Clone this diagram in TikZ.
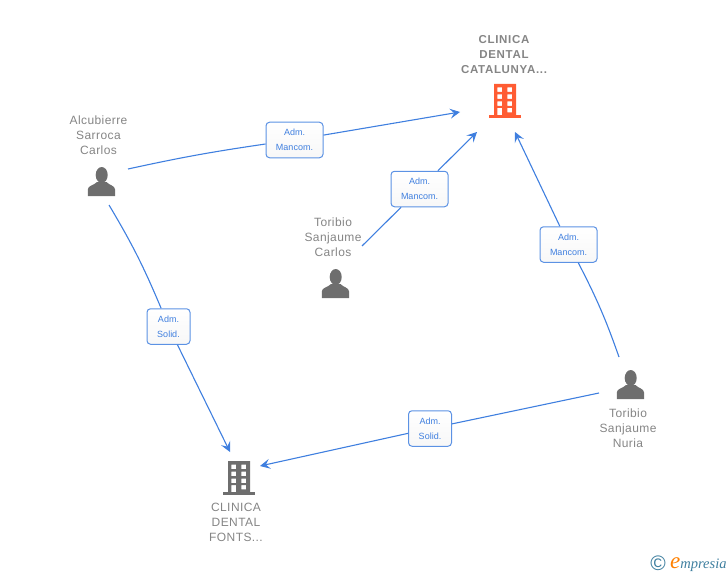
\documentclass[tikz,border=0pt]{standalone}
\usepackage{fontspec}
\setmainfont{Liberation Sans}
\newfontfamily\logofont{Liberation Serif}
\usetikzlibrary{arrows.meta}
\definecolor{linkblue}{HTML}{3F7FDF}
\definecolor{labelgray}{HTML}{858585}
\definecolor{icongray}{HTML}{6E6E6E}
\definecolor{iconorange}{HTML}{FF5C33}
\definecolor{logoteal}{HTML}{3F7F9F}
\tikzset{
  rolebox/.style={draw=linkblue!85, line width=1pt, rounded corners=3.5pt, top color=white, bottom color=black!3,
    text=linkblue, font=\fontsize{9}{15}\selectfont, align=center, inner sep=0pt, minimum height=35.5pt},
  namelabel/.style={text=labelgray, font=\fontsize{12}{15}\selectfont\addfontfeature{LetterSpace=3.5}, align=center, inner sep=0pt},
  firmlabel/.style={text=labelgray, font=\fontsize{11.5}{15}\selectfont\bfseries\addfontfeature{LetterSpace=6}, align=center, inner sep=0pt},
  link/.style={draw=linkblue, line width=1.1pt},
  linkarrow/.style={link, -{Stealth[length=10pt,width=10pt,inset=4pt]}},
  personicon/.pic={
    \fill (0.7,-7) circle [x radius=6, y radius=8];
    \fill (-13.2,14) -- (-13.2,7.5) .. controls (-13.2,3.5) and (-7,3.5) .. (-4,0) -- (5.5,0)
      .. controls (8.5,3.5) and (14,3.5) .. (14,7.5) -- (14,14) -- cycle;
  },
  buildingicon/.pic={
    \fill[even odd rule] (-11,-17) rectangle (11,15)
      \foreach \wx in {-7.7,2.3} {\foreach \wy in {-13.5,-6.5,0.5} {(\wx,\wy) rectangle +(4.7,4.5)}}
      (-7.7,7) rectangle (-3,15) (2.3,7) rectangle (7,11.3);
    \fill (-16,14) rectangle (16,17);
  }
}
\begin{document}
\begin{tikzpicture}[x=1pt,y=-1pt]
  \useasboundingbox (0,0) rectangle (728,575);
  % people and firms
  \pic[icongray] at (101,182) {personicon};
  \pic[icongray] at (335,284) {personicon};
  \pic[icongray] at (630,385) {personicon};
  \pic[iconorange] at (505,101) {buildingicon};
  \pic[icongray] at (239,478) {buildingicon};
  \node[namelabel] (alcubierre) at (98.5,135) {Alcubierre\\Sarroca\\Carlos};
  \node[namelabel] (toribiocarlos) at (333,237) {Toribio\\Sanjaume\\Carlos};
  \node[namelabel] (toribionuria) at (628,428) {Toribio\\Sanjaume\\Nuria};
  \node[firmlabel] (catalunya) at (504,55) {CLINICA\\DENTAL\\CATALUNYA...};
  \node[namelabel] (fonts) at (236,522) {CLINICA\\DENTAL\\FONTS...};
  % role boxes
  \node[rolebox, minimum width=57pt] (mancomA) at (294.5,140) {Adm.\\Mancom.};
  \node[rolebox, minimum width=57pt] (mancomB) at (419.5,189) {Adm.\\Mancom.};
  \node[rolebox, minimum width=57pt] (mancomC) at (568.5,244.5) {Adm.\\Mancom.};
  \node[rolebox, minimum width=43pt] (solidA) at (168.5,326.5) {Adm.\\Solid.};
  \node[rolebox, minimum width=43pt] (solidB) at (430,428.5) {Adm.\\Solid.};
  % free ends
  \coordinate (alcubierreR) at (128,169);
  \coordinate (alcubierreB) at (109,205);
  \coordinate (carlosR) at (362,246);
  \coordinate (nuriaT) at (619,357);
  \coordinate (nuriaL) at (599,393);
  \coordinate (catalunyaL) at (460,112);
  \coordinate (catalunyaB) at (477,132);
  \coordinate (catalunyaR) at (515,132);
  \coordinate (fontsT) at (230,452);
  \coordinate (fontsR) at (260,466);
  % connectors
  \draw[link] (alcubierreR) to[bend left=2] (mancomA);
  \draw[linkarrow] (mancomA) -- (catalunyaL);
  \draw[link] (carlosR) -- (mancomB);
  \draw[linkarrow] (mancomB) -- (catalunyaB);
  \draw[link] (nuriaT) to[bend right=4] (mancomC);
  \draw[linkarrow] (mancomC) -- (catalunyaR);
  \draw[link] (alcubierreB) to[bend left=4] (solidA);
  \draw[linkarrow] (solidA) -- (fontsT);
  \draw[link] (nuriaL) -- (solidB);
  \draw[linkarrow] (solidB) -- (fontsR);
  % logo
  \node[text=logoteal, font=\fontsize{21}{21}\selectfont, inner sep=0pt] (copyr) at (658,563.5) {©};
  \node[text=logoteal, font=\logofont\fontsize{14.5}{14.5}\selectfont\itshape, inner sep=0pt, anchor=base west] (logo) at (670,568)
    {{\color{orange}\fontsize{23}{23}\selectfont e}mpresia};
\end{tikzpicture}
\end{document}
